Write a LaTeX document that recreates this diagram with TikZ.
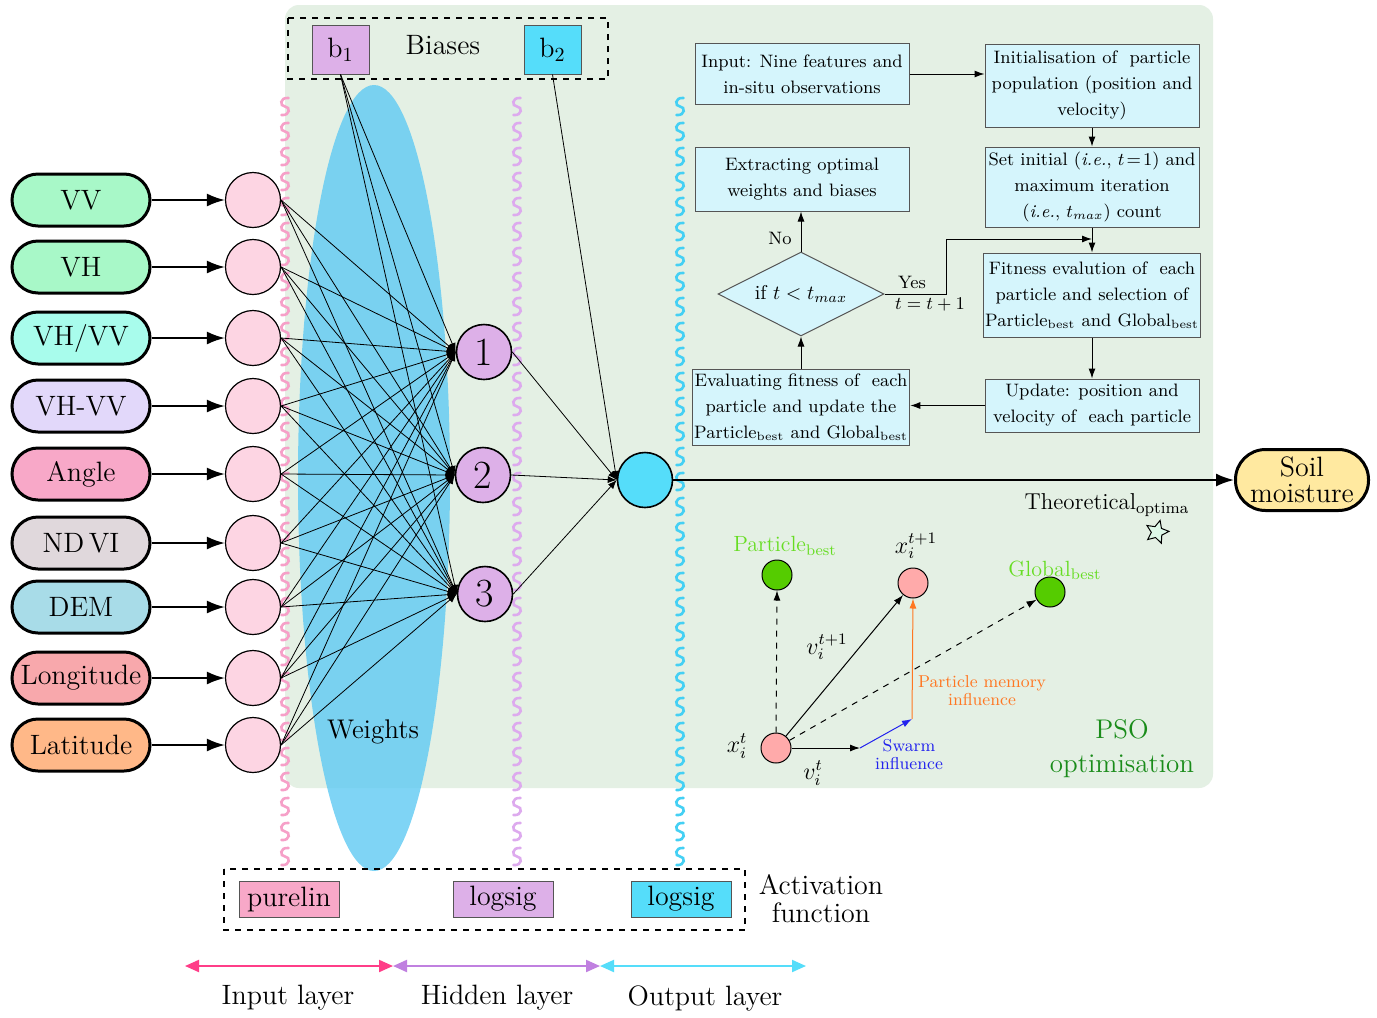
\documentclass[tikz,border=0pt]{standalone}
\usetikzlibrary{arrows.meta,shapes.geometric}
\definecolor{bggreen}{HTML}{E4F0E4}
\definecolor{ellcol}{RGB}{95,202,243}
\definecolor{lilac}{HTML}{DDB0E8}
\definecolor{cyanO}{HTML}{55DDFA}
\definecolor{pinkin}{HTML}{FDD5E3}
\definecolor{flowfill}{HTML}{D5F5FC}
\definecolor{flowborder}{HTML}{555555}
\definecolor{wpink}{HTML}{F6A0C8}
\definecolor{wviolet}{HTML}{DDAAEE}
\definecolor{wcyan}{HTML}{44D0F4}
\definecolor{cVV}{HTML}{A8F8C8}
\definecolor{cVHVV}{HTML}{A8FCEC}
\definecolor{cVHmVV}{HTML}{E2D8FA}
\definecolor{cAngle}{HTML}{F8A8C8}
\definecolor{cNDVI}{HTML}{E0D8DC}
\definecolor{cDEM}{HTML}{A8DCE8}
\definecolor{cLon}{HTML}{F8A8AC}
\definecolor{cLat}{HTML}{FFB888}
\definecolor{cSoil}{HTML}{FFE9A0}
\definecolor{gbest}{HTML}{66DD22}
\definecolor{gcirc}{HTML}{55CC00}
\definecolor{pcirc}{HTML}{FFAAAA}
\definecolor{psogreen}{HTML}{1A8C1A}
\definecolor{swblue}{HTML}{2222EE}
\definecolor{memorange}{HTML}{FF7722}
\definecolor{starfill}{HTML}{DDF8E8}
\definecolor{apink}{HTML}{FF3D88}
\definecolor{aviolet}{HTML}{C080E0}
\begin{document}
\begin{tikzpicture}[x=0.5pt,y=-0.5pt,
  pill/.style={draw=black, line width=1.5pt, rounded corners=13pt, minimum width=69pt, minimum height=26pt, inner sep=1pt, font=\fontsize{14}{16}\selectfont},
  incirc/.style={circle, draw=black, line width=0.6pt, fill=pinkin, minimum size=27.5pt, inner sep=0pt},
  hid/.style={circle, draw=black, line width=0.8pt, fill=lilac, minimum size=27.5pt, inner sep=0pt, font=\fontsize{20}{22}\selectfont},
  bigarrow/.style={line width=1pt, -{Latex[length=9pt,width=6.5pt]}},
  nnline/.style={line width=0.4pt, -{Latex[length=4.5pt,width=3.5pt]}},
  flowbox/.style={draw=flowborder, line width=0.5pt, fill=flowfill, align=center, inner sep=1pt, minimum width=107pt, font=\fontsize{9}{13}\selectfont},
  flowarrow/.style={line width=0.5pt, -{Latex[length=5pt,width=3.5pt]}},
  smalltxt/.style={font=\fontsize{9}{11}\selectfont},
  biastxt/.style={font=\fontsize{14}{16}\selectfont},
  afbox/.style={draw=flowborder, line width=0.5pt, minimum width=50pt, minimum height=18pt, inner sep=0pt, font=\fontsize{14}{16}\selectfont},
  psocirc/.style={circle, draw=black, line width=0.5pt, minimum size=15pt, inner sep=0pt},
  psoarrow/.style={line width=0.5pt, -{Latex[length=5pt,width=3.5pt]}},
  layerarrow/.style={line width=1pt, {Triangle[length=7pt,width=6pt]}-{Triangle[length=7pt,width=6pt]}},
  label14/.style={font=\fontsize{14}{15}\selectfont, align=center}
]
\useasboundingbox (0,0) rectangle (1377,1018);
\fill[white] (0,0) rectangle (1377,1018);
% background panel
\fill[bggreen, rounded corners=7pt] (285,5) rectangle (1213,788);
% weights ellipse
\fill[ellcol, opacity=0.8] (374,478) ellipse [x radius=38pt, y radius=196.5pt];
\node[font=\fontsize{13.5}{15}\selectfont] (weights) at (373,732) {Weights};

% wavy activation lines (separate S strokes)
\foreach \wx/\wc in {285/wpink,517/wviolet,680/wcyan}{
  \foreach \k in {0,...,30}{
    \pgfmathsetmacro{\wy}{98+25*\k}
    \draw[\wc, line width=1.3pt, line cap=round] (\wx+3.5,\wy) .. controls (\wx-5.5,\wy-1) and (\wx-5.5,\wy+8.5) .. (\wx,\wy+8.5) .. controls (\wx+5.5,\wy+8.5) and (\wx+5.5,\wy+18) .. (\wx-3.5,\wy+17);
  }
}

% biases
\draw[dashed, line width=0.6pt] (288,18) rectangle (608,79);
\node[draw=flowborder, line width=0.5pt, fill=lilac, minimum width=28.5pt, minimum height=24.5pt, inner sep=0pt, biastxt] (b1) at (340.5,49.5) {b$_1$};
\node[draw=flowborder, line width=0.5pt, fill=cyanO, minimum width=28.5pt, minimum height=24.5pt, inner sep=0pt, biastxt] (b2) at (552.5,49.5) {b$_2$};
\node[biastxt] (biases) at (443,45) {Biases};

% input pills
\node[pill, fill=cVV] (p1) at (81,200) {VV};
\node[pill, fill=cVV] (p2) at (81,267) {VH};
\node[pill, fill=cVHVV] (p3) at (81,338) {VH/VV};
\node[pill, fill=cVHmVV] (p4) at (81,406) {VH-VV};
\node[pill, fill=cAngle] (p5) at (81,474) {Angle};
\node[pill, fill=cNDVI] (p6) at (81,543) {ND\,VI};
\node[pill, fill=cDEM] (p7) at (81,607) {DEM};
\node[pill, fill=cLon] (p8) at (81,678) {Longitude};
\node[pill, fill=cLat] (p9) at (81,745) {Latitude};

% input neurons
\foreach \i/\yy in {1/200,2/267,3/338,4/406,5/474,6/543,7/607,8/678,9/745}{
  \node[incirc] (in\i) at (253,\yy) {};
  \draw[bigarrow] (p\i.east) -- (in\i.west);
}

% hidden neurons
\node[hid] (h1) at (484,352) {1};
\node[hid] (h2) at (483,475) {2};
\node[hid] (h3) at (485,594) {3};
% output neuron
\node[circle, draw=black, line width=0.8pt, fill=cyanO, minimum size=27.5pt, inner sep=0pt] (out) at (645,480) {};

% connections
\foreach \i in {1,...,9}{
  \foreach \h in {1,2,3}{
    \draw[nnline] (in\i.east) -- (h\h.west);
  }
}
\foreach \h in {1,2,3}{
  \draw[nnline] (b1.south) -- (h\h.west);
  \draw[nnline] (h\h.east) -- (out.west);
}
\draw[nnline] (b2.south) -- (out.west);

% soil moisture
\node[draw=black, line width=1.5pt, fill=cSoil, rounded corners=15pt, minimum width=66.5pt, minimum height=30.5pt, inner sep=1pt, font=\fontsize{14}{13}\selectfont, align=center] (soil) at (1302,480) {Soil\\moisture};
\draw[bigarrow] (out.east) -- (soil.west);

% flowchart
\node[flowbox, minimum height=30.5pt] (fin) at (802,74) {Input: Nine features and\\in-situ observations};
\node[flowbox, minimum height=41.5pt] (finit) at (1092,85.5) {Initialisation of\ \ particle\\population (position and\\velocity)};
\node[flowbox, minimum height=40pt] (fset) at (1092,187) {Set initial (\textit{i.e.}, $t\!=\!1$) and\\maximum iteration\\(\textit{i.e.}, $t_{max}$) count};
\node[flowbox, minimum height=32pt] (fext) at (802,179) {Extracting optimal\\weights and biases};
\node[draw=flowborder, line width=0.5pt, fill=flowfill, diamond, aspect=2, minimum width=83pt, minimum height=42pt, inner sep=0pt, font=\fontsize{10}{12}\selectfont] (fdia) at (801,294) {if $t<t_{max}$};
\node[flowbox, minimum height=42pt] (ffit) at (1092,295) {Fitness evalution of\ \ each\\particle and selection of\\Particle\textsubscript{best} and Global\textsubscript{best}};
\node[flowbox, minimum height=26.5pt] (fupd) at (1092,405.5) {Update: position and\\velocity of\ \ each particle};
\node[flowbox, minimum height=38pt] (feval) at (801,407) {Evaluating fitness of\ \ each\\particle and update the\\Particle\textsubscript{best} and Global\textsubscript{best}};

\draw[flowarrow] (fin.east) -- (fin.east -| finit.west);
\draw[flowarrow] (finit.south) -- (fset.north);
\draw[flowarrow] (fset.south) -- (ffit.north);
\coordinate (join) at (1092,239);
\draw[flowarrow] (fdia.east) -- ++(62,0) |- (join);
\draw[flowarrow] (ffit.south) -- (fupd.north);
\draw[flowarrow] (fupd.west) -- (fupd.west -| feval.east);
\draw[flowarrow] (feval.north) -- (fdia.south);
\draw[flowarrow] (fdia.north) -- (fdia.north |- fext.south);
\node[smalltxt] (lno) at (780,238) {No};
\node[smalltxt] (lyes) at (912,282) {Yes};
\node[smalltxt] (linc) at (930,305) {$t=t+1$};

% PSO illustration
\node[font=\fontsize{11.5}{13}\selectfont] (theo) at (1107,505) {Theoretical\textsubscript{optima}};
\node[star, star points=5, star point ratio=2.1, draw=black, line width=0.5pt, fill=starfill, minimum size=12pt, inner sep=0pt, rotate=-15] (star) at (1157,532) {};
\node[text=gbest, font=\fontsize{11}{13}\selectfont] (lpb) at (785,546) {Particle\textsubscript{best}};
\node[text=gbest, font=\fontsize{11}{13}\selectfont] (lgb) at (1055,570) {Global\textsubscript{best}};
\node[psocirc, fill=gcirc] (pb) at (777,575) {};
\node[psocirc, fill=pcirc] (xn) at (913,583) {};
\node[psocirc, fill=gcirc] (gb) at (1050,592) {};
\node[psocirc, fill=pcirc] (xt) at (776,748) {};
\node[font=\fontsize{12}{14}\selectfont, inner sep=0pt] (lxn) at (916,546) {$x_i^{t+1}$};
\node[font=\fontsize{12}{14}\selectfont, inner sep=0pt] (lxt) at (737,746) {$x_i^{t}$};
\node[font=\fontsize{12}{14}\selectfont, inner sep=0pt] (lvn) at (827,647) {$v_i^{t+1}$};
\node[font=\fontsize{12}{14}\selectfont, inner sep=0pt] (lvt) at (813,773) {$v_i^{t}$};
\coordinate (sw) at (860,750);
\coordinate (mem) at (912,719);
\draw[psoarrow, dashed] (xt.north) -- (pb.south);
\draw[psoarrow] (xt) -- (xn);
\draw[psoarrow, dashed] (xt) -- (gb);
\draw[psoarrow] (xt.east) -- (xt.east -| sw);
\draw[psoarrow, swblue] (xt.east -| sw) -- (mem);
\draw[psoarrow, memorange] (mem) -- (xn.south);
\node[text=swblue, font=\fontsize{8.6}{9}\selectfont, align=center] (lsw) at (909,755) {Swarm\\influence};
\node[text=memorange, font=\fontsize{8.6}{9}\selectfont, align=center] (lmem) at (982,691) {Particle memory\\influence};
\node[text=psogreen, font=\fontsize{13.5}{17}\selectfont, align=center] (lpso) at (1122,749) {PSO\\optimisation};

% activation functions
\draw[dashed, line width=0.6pt] (224,869) rectangle (745,930);
\node[afbox, fill=cAngle] (af1) at (289,899) {purelin};
\node[afbox, fill=lilac] (af2) at (503,899) {logsig};
\node[afbox, fill=cyanO] (af3) at (681,899) {logsig};
\node[label14] (lact) at (821,899) {Activation\\[-1pt]function};

% layer arrows
\coordinate (a0) at (185,966);
\coordinate (a1) at (393,966);
\coordinate (a2) at (600,966);
\coordinate (a3) at (806,966);
\draw[layerarrow, apink] (a0) -- (a1);
\draw[layerarrow, aviolet] (a1) -- (a2);
\draw[layerarrow, cyanO] (a2) -- (a3);
\node[label14] (lin) at (288,998) {Input layer};
\node[label14] (lhid) at (497,998) {Hidden layer};
\node[label14] (lout) at (705,998) {Output layer};
\end{tikzpicture}
\end{document}
